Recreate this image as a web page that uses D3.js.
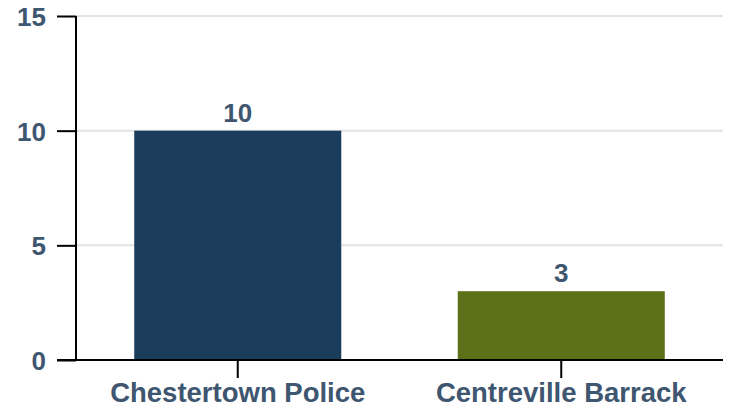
<!DOCTYPE html>
<html>
<head>
<meta charset="utf-8">
<script src="https://cdn.jsdelivr.net/npm/d3@7"></script>
<style>
  body { margin: 0; background: #fff; }
  svg { display: block; font-family: "Liberation Sans", Arial, Helvetica, sans-serif; }
</style>
</head>
<body>
<div id="chart"></div>
<script>
var categories = ["Chestertown Police", "Centreville Barrack"];
var values = [10, 3];
var barColors = ["#1a3d5c", "#5b7018"];
var yTicks = [0, 5, 10, 15];

var width = 729, height = 408;
var plotLeft = 76, plotRight = 723, plotTop = 16, plotBottom = 360;
var textColor = "#3e5670";

var svg = d3.select("#chart").append("svg")
  .attr("width", width)
  .attr("height", height);

var x = d3.scaleBand()
  .domain(categories)
  .range([plotLeft, plotRight])
  .paddingInner(0.36)
  .paddingOuter(0.18);

var y = d3.scaleLinear()
  .domain([0, 15])
  .range([plotBottom, plotTop]);

// gridlines
svg.append("g")
  .selectAll("line")
  .data(yTicks.filter(function (d) { return d > 0; }))
  .enter()
  .append("line")
  .attr("x1", plotLeft)
  .attr("x2", plotRight)
  .attr("y1", function (d) { return y(d); })
  .attr("y2", function (d) { return y(d); })
  .attr("stroke", "#e3e3e3")
  .attr("stroke-width", 2);

// bars
svg.append("g")
  .selectAll("rect")
  .data(values)
  .enter()
  .append("rect")
  .attr("x", function (d, i) { return x(categories[i]); })
  .attr("y", function (d) { return y(d); })
  .attr("width", x.bandwidth())
  .attr("height", function (d) { return plotBottom - y(d); })
  .attr("fill", function (d, i) { return barColors[i]; });

// value labels
svg.append("g")
  .selectAll("text")
  .data(values)
  .enter()
  .append("text")
  .attr("x", function (d, i) { return x(categories[i]) + x.bandwidth() / 2; })
  .attr("y", function (d) { return y(d) - 9; })
  .attr("text-anchor", "middle")
  .attr("fill", textColor)
  .style("font-size", "26px")
  .style("font-weight", "bold")
  .text(function (d) { return d; });

// y axis
var yAxis = svg.append("g")
  .attr("transform", "translate(" + plotLeft + ",0)")
  .call(d3.axisLeft(y).tickValues(yTicks).tickSize(19).tickPadding(11));
yAxis.select(".domain").attr("stroke", "#000").attr("stroke-width", 2)
  .attr("d", "M0," + plotTop + "V" + plotBottom);
yAxis.selectAll(".tick line").attr("stroke", "#000").attr("stroke-width", 2);
yAxis.selectAll(".tick text")
  .attr("fill", textColor)
  .style("font-size", "26px")
  .style("font-weight", "bold")
  .attr("dy", "0.36em");

// x axis
var xAxis = svg.append("g")
  .attr("transform", "translate(0," + plotBottom + ")")
  .call(d3.axisBottom(x).tickSize(18).tickSizeOuter(0).tickPadding(4));
xAxis.select(".domain").attr("stroke", "#000").attr("stroke-width", 2)
  .attr("d", "M" + (plotLeft - 19) + ",0H" + plotRight);
xAxis.selectAll(".tick line").attr("stroke", "#000").attr("stroke-width", 2);
xAxis.selectAll(".tick text")
  .attr("fill", textColor)
  .style("font-size", "27.5px")
  .style("font-weight", "bold");
</script>
</body>
</html>
